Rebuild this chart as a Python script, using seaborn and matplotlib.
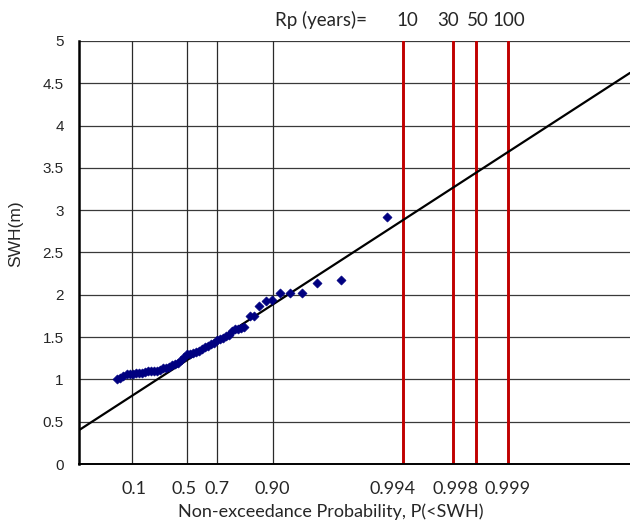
import numpy as np
import pandas as pd
import matplotlib
matplotlib.use("Agg")
import matplotlib.pyplot as plt
from matplotlib.transforms import blended_transform_factory, ScaledTranslation
import seaborn as sns

# Ranked storm peaks: non-exceedance probability and significant wave height (m)
peak_prob = [0.0397, 0.0489, 0.0593, 0.0752, 0.0886, 0.1035, 0.1194, 0.1367,
             0.1553, 0.1748, 0.1955, 0.2170, 0.2393, 0.2621, 0.2854, 0.3091,
             0.3332, 0.3573, 0.3816, 0.4058, 0.4298, 0.4536, 0.4771, 0.5001,
             0.5227, 0.5448, 0.5663, 0.5872, 0.6075, 0.6271, 0.6461, 0.6643,
             0.6819, 0.6988, 0.7149, 0.7304, 0.7451, 0.7593, 0.7727, 0.7855,
             0.7977, 0.8093, 0.8203, 0.8406, 0.8530, 0.8673, 0.8850, 0.8984,
             0.9141, 0.9304, 0.9461, 0.9610, 0.9768, 0.9915]
peak_swh = [1.01, 1.02, 1.04, 1.06, 1.06, 1.06, 1.07, 1.07,
            1.07, 1.09, 1.10, 1.10, 1.10, 1.10, 1.11, 1.13,
            1.14, 1.15, 1.17, 1.18, 1.19, 1.23, 1.27, 1.30,
            1.30, 1.31, 1.32, 1.34, 1.36, 1.38, 1.40, 1.42,
            1.43, 1.46, 1.48, 1.49, 1.51, 1.53, 1.57, 1.59,
            1.60, 1.61, 1.62, 1.75, 1.75, 1.87, 1.93, 1.94,
            2.02, 2.02, 2.02, 2.14, 2.18, 2.92]

# Fitted Gumbel distribution: SWH = loc + scale * reduced variate
gumbel_loc = 1.098
gumbel_scale = 0.349

# Probability grid lines
grid_probs = [0.1, 0.5, 0.7, 0.9]
grid_labels = ["0.1", "0.5", "0.7", "0.90"]

# Return periods and the matching non-exceedance probabilities
return_periods = [10, 30, 50, 100]
rp_probs = [0.994, 0.998, 0.9988, 0.9994]
rp_tick_labels = ["0.994", "0.998", "", "0.999"]

y_ticks = [0, 0.5, 1, 1.5, 2, 2.5, 3, 3.5, 4, 4.5, 5]
x_range = (-2.0, 10.1)

CAL = ["Lato", "DejaVu Sans"]


def reduced_variate(p):
    p = np.asarray(p, dtype=float)
    return -np.log(-np.log(p))


peaks = pd.DataFrame({"z": reduced_variate(peak_prob), "swh": peak_swh})
fit_z = np.array(x_range)
fit = pd.DataFrame({"z": fit_z, "swh": gumbel_loc + gumbel_scale * fit_z})

sns.set_style("white")
plt.rcParams["font.family"] = ["Liberation Sans", "DejaVu Sans"]

fig = plt.figure(figsize=(6.3, 5.3), dpi=100)
ax = fig.add_axes([79 / 630, 1 - 464 / 530, 1 - 79 / 630, (464 - 41) / 530])

# grid
for v in y_ticks:
    ax.axhline(v, color="#3a3a3a", lw=0.9, zorder=1)
for zg in reduced_variate(grid_probs):
    ax.axvline(zg, color="#2a2a2a", lw=0.9, zorder=1)
for zr in reduced_variate(rp_probs):
    ax.axvline(zr, color="#c00000", lw=2.1, zorder=2)

sns.lineplot(data=fit, x="z", y="swh", color="black", lw=1.6, ax=ax, zorder=3)
sns.scatterplot(data=peaks, x="z", y="swh", marker="D", s=22, color="#000080",
                edgecolor="#000080", linewidth=0.4, ax=ax, zorder=4)

ax.set_xlim(*x_range)
ax.set_ylim(0, 5)

ax.set_yticks(y_ticks)
ax.set_yticklabels(["0", "0.5", "1", "1.5", "2", "2.5", "3", "3.5", "4", "4.5", "5"])
ax.tick_params(axis="y", length=5, width=1, color="#555555", pad=6, labelsize=11)

ax.set_xticks(list(reduced_variate(grid_probs)) + list(reduced_variate(rp_probs)))
ax.set_xticklabels(grid_labels + rp_tick_labels, family=CAL)
ax.tick_params(axis="x", length=0, pad=12, labelsize=13)
# small hand-placed nudges of the probability labels (pixels)
nudges = {"0.1": 2, "0.5": -3, "0.994": -10, "0.998": 2}
for lab in ax.get_xticklabels():
    dx = nudges.get(lab.get_text(), 0)
    if dx:
        lab.set_transform(lab.get_transform() + ScaledTranslation(dx / 100, 0, fig.dpi_scale_trans))

for side in ["top", "right"]:
    ax.spines[side].set_visible(False)
ax.spines["left"].set_linewidth(1.8)
ax.spines["left"].set_color("black")
ax.spines["bottom"].set_linewidth(1.4)
ax.spines["bottom"].set_color("black")

# axis titles
ax.set_xlabel("")
ax.set_ylabel("")
fig.text(331 / 630, 1 - 512 / 530, "Non-exceedance Probability, P(<SWH)",
         ha="center", va="center", fontsize=13, family=CAL)
fig.text(16 / 630, 1 - 234 / 530, "SWH(m)", rotation=90,
         ha="center", va="center", fontsize=12.5)

# return period annotations above the plot
fig.text(367 / 630, 1 - 20 / 530, "Rp (years)=", ha="right", va="center",
         fontsize=13.5, family=CAL)
top = blended_transform_factory(ax.transData, fig.transFigure)
rp_nudges = [4, -5, 2, 1]
for zr, rp, dx in zip(reduced_variate(rp_probs), return_periods, rp_nudges):
    t = ax.text(zr, 1 - 20 / 530, str(rp), transform=top, ha="center", va="center",
                fontsize=13.5, family=CAL)
    t.set_transform(top + ScaledTranslation(dx / 100, 0, fig.dpi_scale_trans))

fig.savefig("out.png", dpi=100)
